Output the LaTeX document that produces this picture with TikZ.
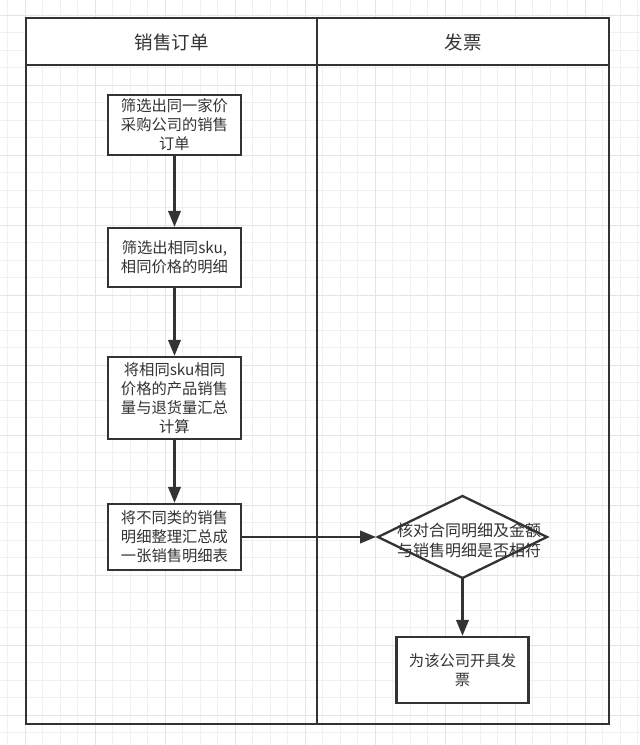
\documentclass[tikz,border=0pt]{standalone}
\usepackage{fontspec}
\setmainfont{Noto Sans CJK SC}
\usetikzlibrary{arrows.meta}
\definecolor{ink}{HTML}{333333}
\definecolor{gridminor}{HTML}{F0F0F0}
\definecolor{gridmajor}{HTML}{E4E4E4}
\tikzset{
  box/.style={draw=ink,line width=2.3pt,fill=white,minimum width=133pt,minimum height=60pt,
    text width=130pt,align=center,font=\fontsize{15.3pt}{19pt}\selectfont,text=ink,inner sep=0pt},
  dectext/.style={align=center,font=\fontsize{16pt}{20pt}\selectfont,text=ink,inner sep=0pt},
  dec/.style={draw=ink,line width=2.3pt,fill=white,line join=miter},
  lane/.style={draw=ink,line width=2.3pt},
  head/.style={font=\fontsize{18.5pt}{22pt}\selectfont,text=ink},
  flow/.style={draw=ink,line width=2.3pt,-{Triangle[length=16pt,width=12.5pt]}}
}
\begin{document}
\begin{tikzpicture}[x=1pt,y=-1pt]
\useasboundingbox (0,0) rectangle (640,745);
\fill[white] (0,0) rectangle (640,745);
% grid
\foreach \i in {0,...,37} {
  \draw[gridminor,line width=0.7pt] ({7.5+17.5*\i},0) -- ({7.5+17.5*\i},745);
}
\foreach \i in {0,...,43} {
  \draw[gridminor,line width=0.7pt] (0,{-2.5+17.5*\i}) -- (640,{-2.5+17.5*\i});
}
\foreach \i in {-1,...,9} {
  \draw[gridmajor,line width=0.9pt] ({25+70*\i},0) -- ({25+70*\i},745);
}
\foreach \i in {0,...,11} {
  \draw[gridmajor,line width=0.9pt] (0,{15+70*\i}) -- (640,{15+70*\i});
}
% swimlanes
\fill[white] (26,18) rectangle (609,65);
\draw[lane] (26,18) rectangle (609,724);
\draw[lane] (26,65) -- (609,65);
\draw[lane] (317,18) -- (317,724);
\node[head] (h1) at (171.5,42) {销售订单};
\node[head] (h2) at (463,42) {发票};
% nodes
\node[box] (b1) at (174.5,125) {筛选出同一家价\\采购公司的销售\\订单};
\node[box,minimum height=59pt] (b2) at (174.5,257.5) {筛选出相同sku,\\相同价格的明细};
\node[box,minimum height=82pt] (b3) at (174.5,398) {将相同sku相同\\价格的产品销售\\量与退货量汇总\\计算};
\node[box,minimum height=66pt] (b4) at (174.5,537) {将不同类的销售\\明细整理汇总成\\一张销售明细表};
% decision diamond
\coordinate (dl) at (378,537);
\coordinate (dt) at (462.5,496);
\coordinate (dr) at (547,537);
\coordinate (db) at (462.5,578);
\draw[dec] (dl) -- (dt) -- (dr) -- (db) -- cycle;
\node[dectext] (d1) at (469,540) {核对合同明细及金额\\与销售明细是否相符};
\node[box,minimum width=132pt,minimum height=66pt] (b5) at (462.5,670) {为该公司开具发\\票};
% connectors
\draw[flow] (b1) -- (b2);
\draw[flow] (b2) -- (b3);
\draw[flow] (b3) -- (b4);
\draw[flow,shorten >=2pt] (b4) -- (dl);
\draw[flow] (db) -- (b5);
\end{tikzpicture}
\end{document}
